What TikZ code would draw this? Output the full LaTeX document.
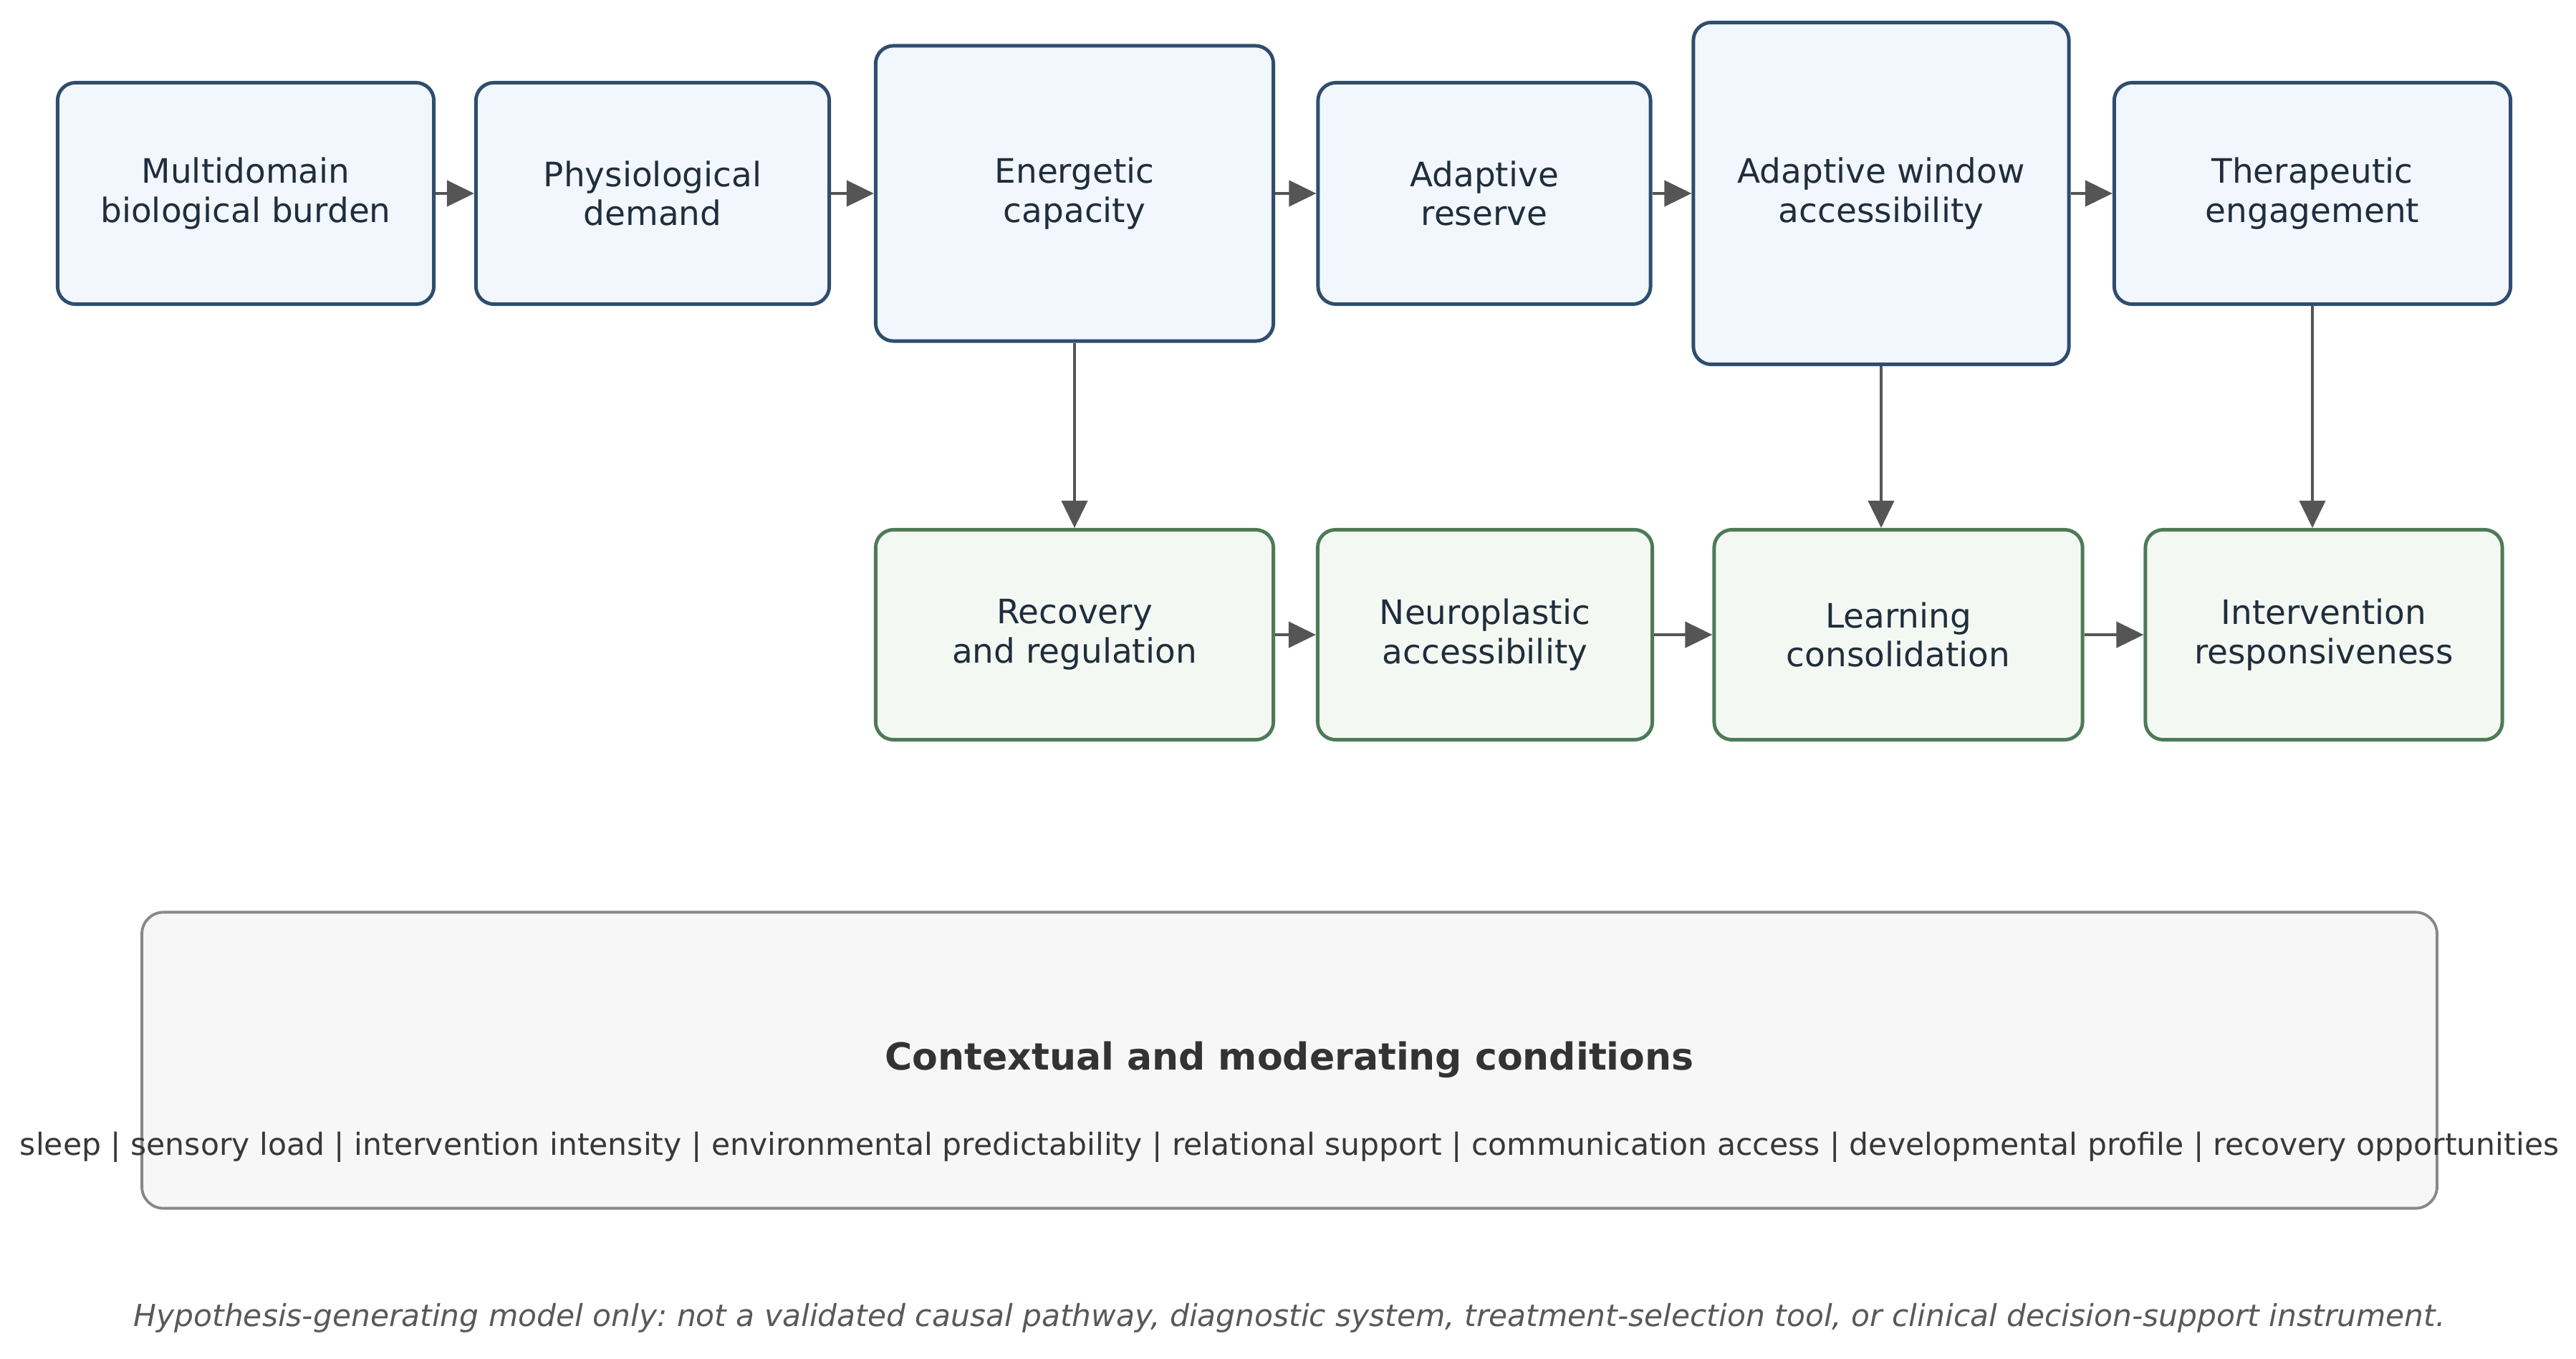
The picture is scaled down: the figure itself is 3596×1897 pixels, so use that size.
\documentclass[tikz,border=0pt]{standalone}
\usepackage{fontspec}
\setmainfont{DejaVu Sans}
\frenchspacing
\usetikzlibrary{arrows.meta}
\definecolor{topfill}{HTML}{F1F7FC}
\definecolor{topdraw}{HTML}{2F4D6E}
\definecolor{botfill}{HTML}{F3F9F2}
\definecolor{botdraw}{HTML}{4E7A57}
\definecolor{ctxfill}{HTML}{F7F7F7}
\definecolor{ctxdraw}{HTML}{888888}
\definecolor{linkgray}{HTML}{555555}
\definecolor{ink}{HTML}{1F2D3D}

\begin{document}
\begin{tikzpicture}[
  x=0.01cm,y=-0.01cm,
  line join=round,
  >={Triangle[length=0.38cm,width=0.36cm]},
  stage/.style={draw=topdraw,fill=topfill,line width=1.4pt,rounded corners=0.25cm,
    text=ink,align=center,inner sep=0pt,font=\fontsize{13.35}{15.6}\selectfont},
  outcome/.style={stage,draw=botdraw,fill=botfill},
  context/.style={draw=ctxdraw,fill=ctxfill,line width=1.1pt,rounded corners=0.3cm},
  link/.style={draw=linkgray,line width=1.2pt,->}
]

\useasboundingbox (0,0) rectangle (3596,1897);

% Upstream chain
\node[stage,minimum width=5.25cm,minimum height=3.09cm] (burden)   at (343,270)  {Multidomain\\biological burden};
\node[stage,minimum width=4.93cm,minimum height=3.09cm] (demand)   at (911,270)  {Physiological\\demand};
\node[stage,minimum width=5.55cm,minimum height=4.12cm] (capacity) at (1500,270) {Energetic\\capacity};
\node[stage,minimum width=4.64cm,minimum height=3.09cm] (reserve)  at (2072,270) {Adaptive\\reserve};
\node[stage,minimum width=5.24cm,minimum height=4.77cm] (window)   at (2626,270) {Adaptive window\\accessibility};
\node[stage,minimum width=5.53cm,minimum height=3.09cm] (engage)   at (3228,270) {Therapeutic\\engagement};

% Downstream chain
\node[outcome,minimum width=5.55cm,minimum height=2.93cm] (recovery) at (1500,886) {Recovery\\and regulation};
\node[outcome,minimum width=4.67cm,minimum height=2.93cm] (plastic)  at (2073,886) {Neuroplastic\\accessibility};
\node[outcome,minimum width=5.14cm,minimum height=2.93cm] (learning) at (2650,886) {Learning\\consolidation};
\node[outcome,minimum width=4.98cm,minimum height=2.93cm] (response) at (3244,886) {Intervention\\responsiveness};

% Horizontal links
\foreach \a/\b in {burden/demand,demand/capacity,capacity/reserve,reserve/window,window/engage,
                   recovery/plastic,plastic/learning,learning/response}
  \draw[link] (\a) -- (\b);

% Vertical links
\draw[link] (capacity.south) -- (recovery.north);
\draw[link] (window.south) -- (window.south |- learning.north);
\draw[link] (engage.south) -- (engage.south |- response.north);

% Moderating conditions
\node[context,minimum width=32.02cm,minimum height=4.13cm] (ctx) at (1800,1480) {};
\node[text=black!80,font=\fontsize{14.8}{17}\selectfont\bfseries] (ctxtitle) at (1800,1479)
  {Contextual and moderating conditions};
\node[text=black!78,font=\fontsize{12.1}{14}\selectfont] (ctxlist) at (1800,1601)
  {sleep | sensory load | intervention intensity | environmental predictability | relational support | communication access | developmental profile | recovery opportunities};

% Disclaimer
\node[text=black!65,font=\fontsize{12.05}{14}\selectfont\itshape] (note) at (1800,1840)
  {Hypothesis-generating model only: not a validated causal pathway, diagnostic system, treatment-selection tool, or clinical decision-support instrument.};

\end{tikzpicture}
\end{document}
